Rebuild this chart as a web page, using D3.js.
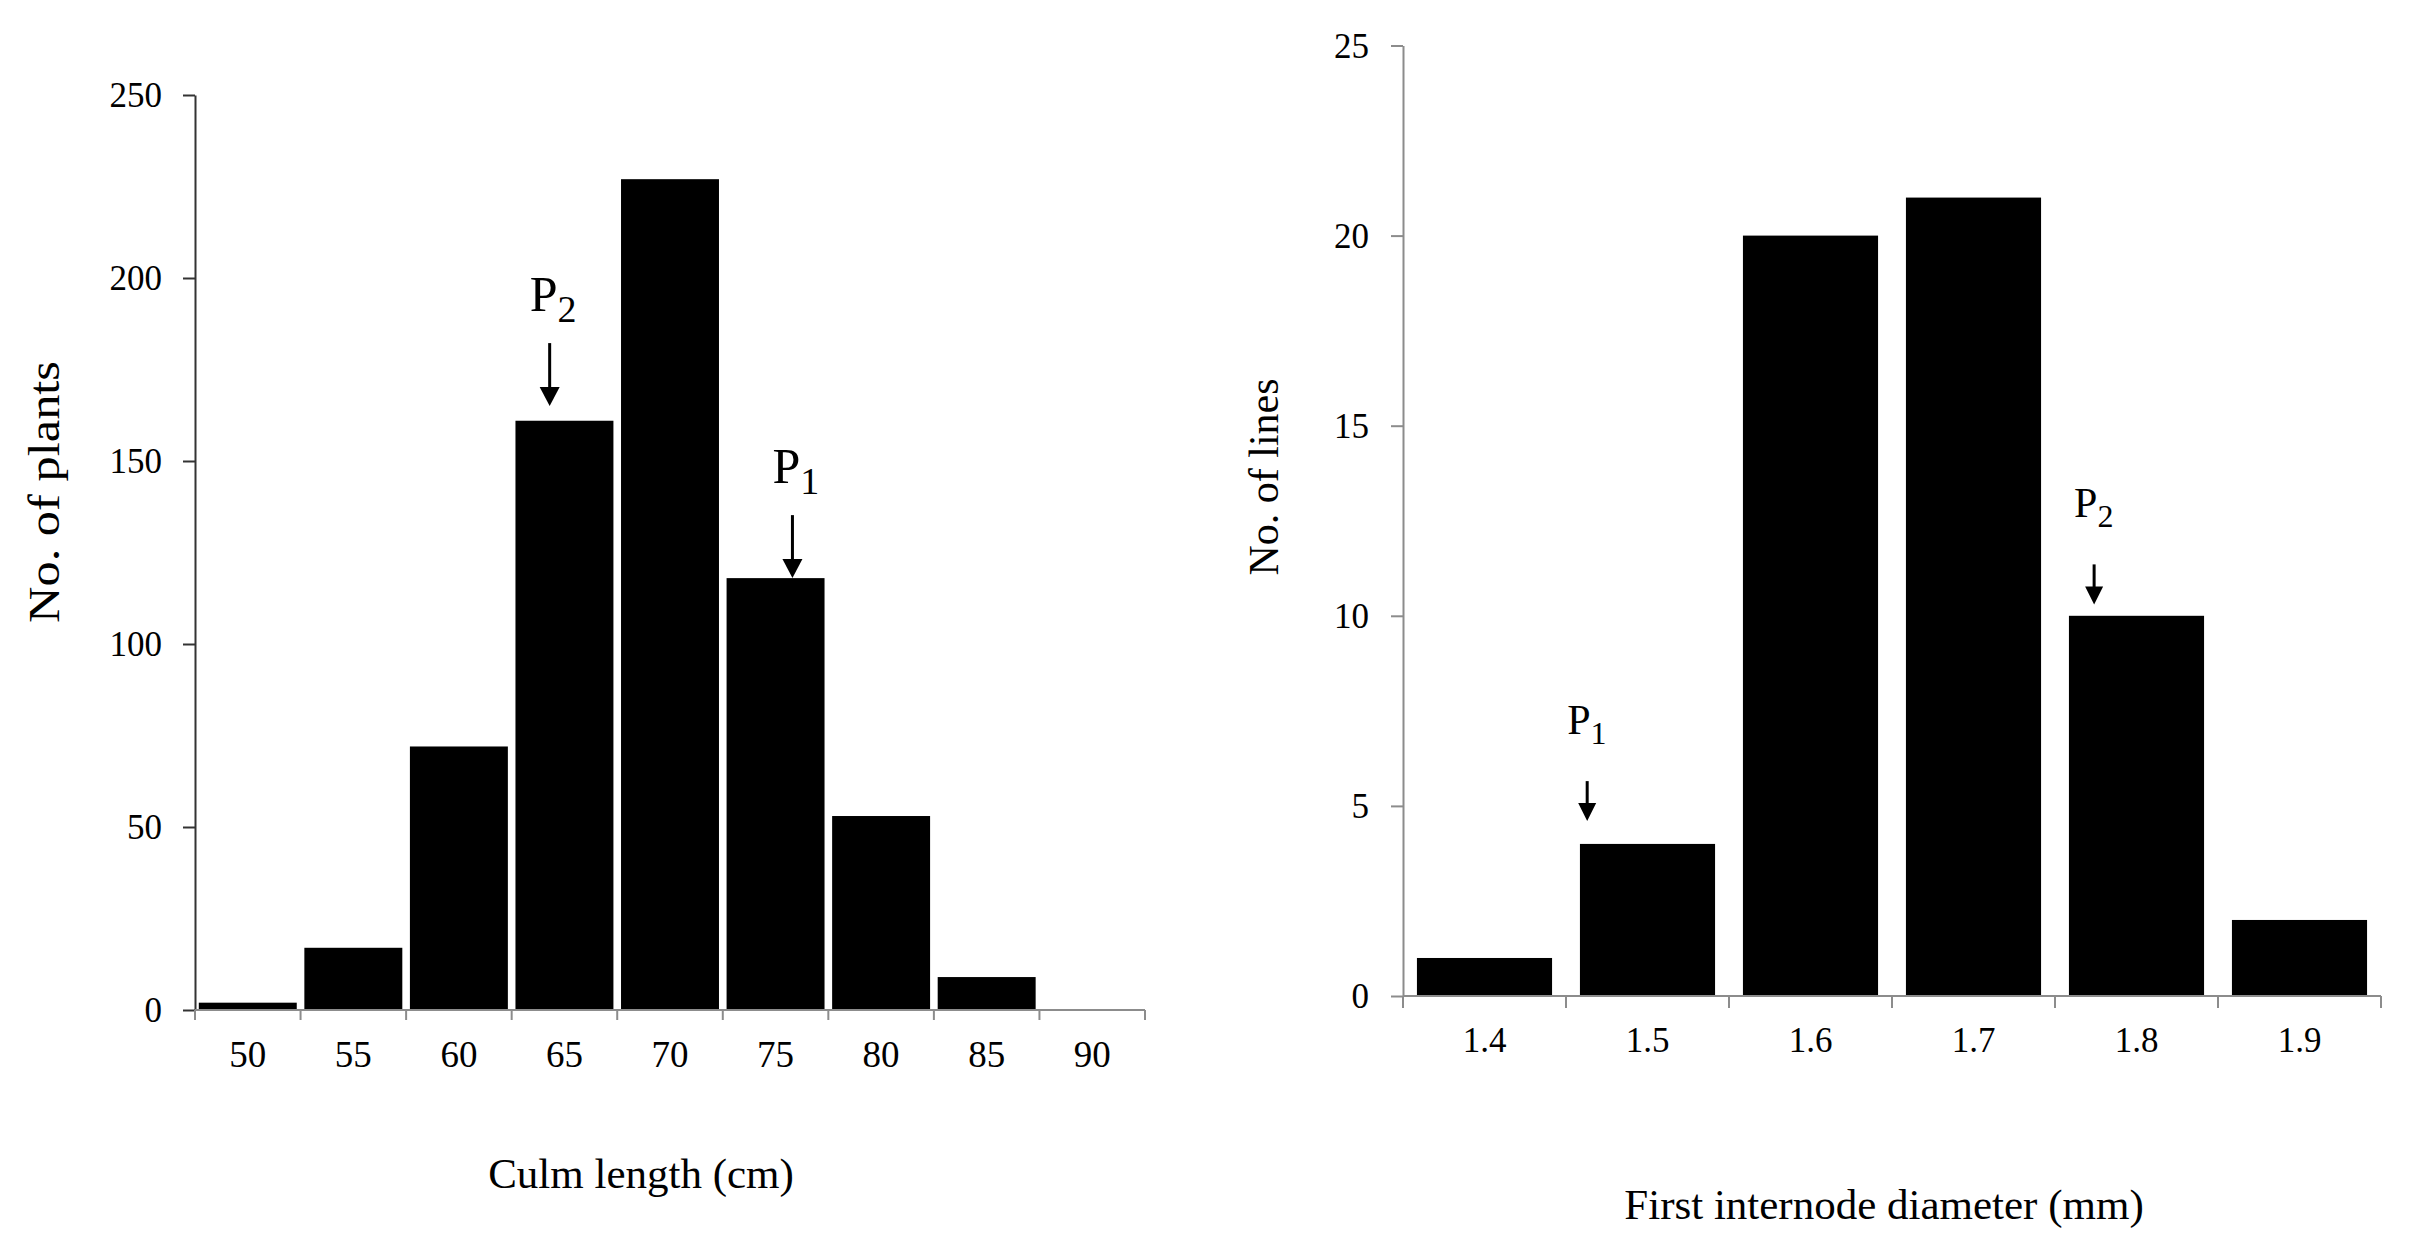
<!DOCTYPE html>
<html>
<head>
<meta charset="utf-8">
<script src="https://cdn.jsdelivr.net/npm/d3@7"></script>
<style>
  body { margin: 0; background: #fff; }
  svg text { font-family: "Liberation Serif", "Times New Roman", serif; fill: #000; }
</style>
</head>
<body>
<svg id="canvas" width="2417" height="1259"></svg>
<script>
// culm length histogram (left)
let culmBins = ["50", "55", "60", "65", "70", "75", "80", "85", "90"];
let culmCounts = [2, 17, 72, 161, 227, 118, 53, 9, 0];
let culmTicks = [0, 50, 100, 150, 200, 250];

// first internode diameter histogram (right)
let diamBins = ["1.4", "1.5", "1.6", "1.7", "1.8", "1.9"];
let diamCounts = [1, 4, 20, 21, 10, 2];
let diamTicks = [0, 5, 10, 15, 20, 25];

// parent marks: name, value on the x variable, level of the arrow tip
let culmParents = ["2", "1"];
let culmParentValues = [64.3, 75.8];
let culmParentTips = [165, 118];

let diamParents = ["1", "2"];
let diamParentValues = [1.463, 1.774];
let diamParentTips = [4.6, 10.3];

let svg = d3.select("#canvas");
svg.append("rect").attr("width", 2417).attr("height", 1259).attr("fill", "#fff");

function histogram(o) {
  let g = svg.append("g");

  let x = d3.scaleBand()
    .domain(o.bins)
    .range([o.left, o.right])
    .paddingInner(o.pad)
    .paddingOuter(o.pad / 2);
  let y = d3.scaleLinear().domain([0, o.yMax]).range([o.bottom, o.top]);

  // bars
  g.selectAll(".bar")
    .data(o.bins.map((b, i) => ({bin: b, n: o.counts[i]})))
    .enter().append("rect")
      .attr("class", "bar")
      .attr("x", d => x(d.bin))
      .attr("width", x.bandwidth())
      .attr("y", d => y(d.n))
      .attr("height", d => o.bottom - y(d.n))
      .attr("fill", "#000");

  // y axis
  let ya = g.append("g")
    .attr("transform", `translate(${o.left},0)`)
    .call(d3.axisLeft(y).tickValues(o.yTicks).tickSize(12).tickPadding(o.yPad).tickSizeOuter(0));
  ya.select(".domain").attr("stroke", o.yAxisColor).attr("stroke-width", 2);
  ya.selectAll(".tick line").attr("stroke", o.yAxisColor).attr("stroke-width", 2);
  ya.selectAll("text")
    .attr("font-family", null)
    .attr("font-size", o.yFont)
    .attr("dy", "0.34em");
  ya.attr("font-family", null).attr("font-size", null);

  // x axis: line, ticks on the bin edges, labels in the bins
  let edges = d3.range(o.bins.length + 1).map(i => o.left + i * x.step());
  g.append("line")
    .attr("x1", o.left).attr("x2", o.right)
    .attr("y1", o.bottom).attr("y2", o.bottom)
    .attr("stroke", o.xAxisColor).attr("stroke-width", 2);
  g.selectAll(".edge")
    .data(edges)
    .enter().append("line")
      .attr("class", "edge")
      .attr("x1", d => d).attr("x2", d => d)
      .attr("y1", o.bottom).attr("y2", o.bottom + o.xTick)
      .attr("stroke", o.xAxisColor).attr("stroke-width", 2);
  g.selectAll(".xlab")
    .data(o.bins)
    .enter().append("text")
      .attr("class", "xlab")
      .attr("x", d => x(d) + x.bandwidth() / 2)
      .attr("y", o.bottom + o.xLabDrop)
      .attr("text-anchor", "middle")
      .attr("font-size", o.xFont)
      .text(d => d);

  // axis titles
  g.append("text")
    .attr("x", o.xTitleX).attr("y", o.xTitleY)
    .attr("text-anchor", "middle")
    .attr("font-size", o.titleFont)
    .text(o.xTitle);
  let yt = g.append("text")
    .attr("transform", `translate(${o.yTitleX},${o.yTitleY}) rotate(-90)`)
    .attr("text-anchor", "middle")
    .attr("font-size", o.yTitleFont)
    .text(o.yTitle);
  if (o.yTitleLen) {
    yt.attr("textLength", o.yTitleLen).attr("lengthAdjust", "spacingAndGlyphs");
  }

  // parent arrows
  let first = o.bins[0], last = o.bins[o.bins.length - 1];
  let xv = d3.scaleLinear()
    .domain([+first, +last])
    .range([x(first) + x.bandwidth() / 2, x(last) + x.bandwidth() / 2]);

  o.parents.forEach((p, i) => {
    let px = xv(o.parentValues[i]);
    let tip = y(o.parentTips[i]);
    let top = tip - o.arrowLen;
    g.append("line")
      .attr("x1", px).attr("x2", px)
      .attr("y1", top).attr("y2", tip - o.headLen + 2)
      .attr("stroke", "#000").attr("stroke-width", 3);
    g.append("path")
      .attr("d", `M${px - o.headW / 2},${tip - o.headLen} L${px + o.headW / 2},${tip - o.headLen} L${px},${tip} Z`)
      .attr("fill", "#000");
    let t = g.append("text")
      .attr("x", px - 20)
      .attr("y", top - o.labGap)
      .attr("font-size", o.pFont);
    t.append("tspan").text("P");
    t.append("tspan")
      .attr("font-size", o.subFont)
      .attr("dy", o.subDy)
      .text(p);
  });
}

histogram({
  bins: culmBins, counts: culmCounts, yTicks: culmTicks, yMax: 250,
  left: 195, right: 1145, top: 95, bottom: 1010, pad: 0.072,
  yPad: 21, yFont: 35, yAxisColor: "#333", xAxisColor: "#8c8c8c",
  xTick: 10, xLabDrop: 57, xFont: 37,
  xTitle: "Culm length (cm)", xTitleX: 641, xTitleY: 1188, titleFont: 43,
  yTitle: "No. of plants", yTitleX: 59, yTitleY: 492, yTitleFont: 44, yTitleLen: 262,
  parents: culmParents, parentValues: culmParentValues, parentTips: culmParentTips,
  arrowLen: 63, headLen: 19, headW: 20, labGap: 32, pFont: 50, subFont: 38, subDy: 11
});

histogram({
  bins: diamBins, counts: diamCounts, yTicks: diamTicks, yMax: 25,
  left: 1403, right: 2381, top: 45.5, bottom: 996, pad: 0.171,
  yPad: 22, yFont: 35, yAxisColor: "#8c8c8c", xAxisColor: "#8c8c8c",
  xTick: 12, xLabDrop: 56, xFont: 35,
  xTitle: "First internode diameter (mm)", xTitleX: 1884, xTitleY: 1219, titleFont: 43,
  yTitle: "No. of lines", yTitleX: 1278, yTitleY: 477, yTitleFont: 42, yTitleLen: 0,
  parents: diamParents, parentValues: diamParentValues, parentTips: diamParentTips,
  arrowLen: 40, headLen: 18, headW: 18, labGap: 47, pFont: 42, subFont: 32, subDy: 10
});
</script>
</body>
</html>
